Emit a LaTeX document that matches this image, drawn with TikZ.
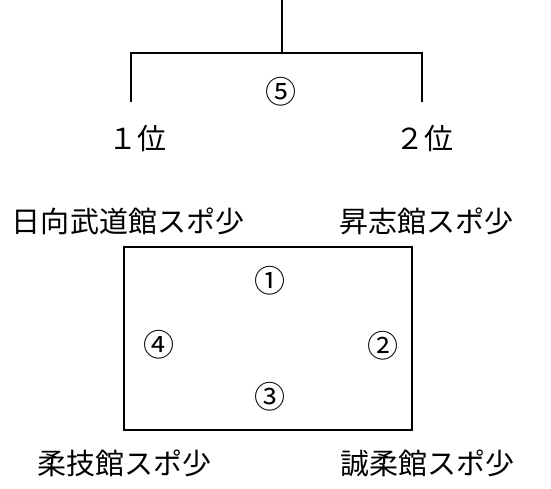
\documentclass[tikz,border=0pt]{standalone}
\usepackage{fontspec}
\newfontfamily\cjk{Noto Sans CJK JP}
\begin{document}
\begin{tikzpicture}[x=1pt,y=-1pt,
  line/.style={draw=black,line width=1.2pt},
  team/.style={font=\cjk\fontsize{29}{32}\selectfont,inner sep=0pt},
  num/.style={font=\cjk\fontsize{31}{34}\selectfont,inner sep=0pt}]
\useasboundingbox (0,0) rectangle (551,488);
% bracket
\coordinate (top) at (282,0);
\coordinate (mid) at (282,53);
\coordinate (lt) at (131,53);
\coordinate (rt) at (422,53);
\coordinate (lb) at (131,102);
\coordinate (rb) at (422,102);
\draw[line] (top) -- (mid);
\draw[line] (lb) -- (lt) -- (rt) -- (rb);
\node[num] (n5) at (281,92) {⑤};
\node[team] (p1) at (137,138) {１位};
\node[team] (p2) at (424,138) {２位};
% teams
\node[team] (hyuga) at (128,221) {日向武道館スポ少};
\node[team] (shoshi) at (426,221) {昇志館スポ少};
\node[team] (jugi) at (124,463) {柔技館スポ少};
\node[team] (seiju) at (427,463) {誠柔館スポ少};
% court
\node[line,minimum width=288pt,minimum height=183pt,inner sep=0pt] (court) at (268,338.5) {};
\node[num] (n1) at (270,281) {①};
\node[num] (n2) at (383,346) {②};
\node[num] (n3) at (270,397) {③};
\node[num] (n4) at (159,345) {④};
\end{tikzpicture}
\end{document}
